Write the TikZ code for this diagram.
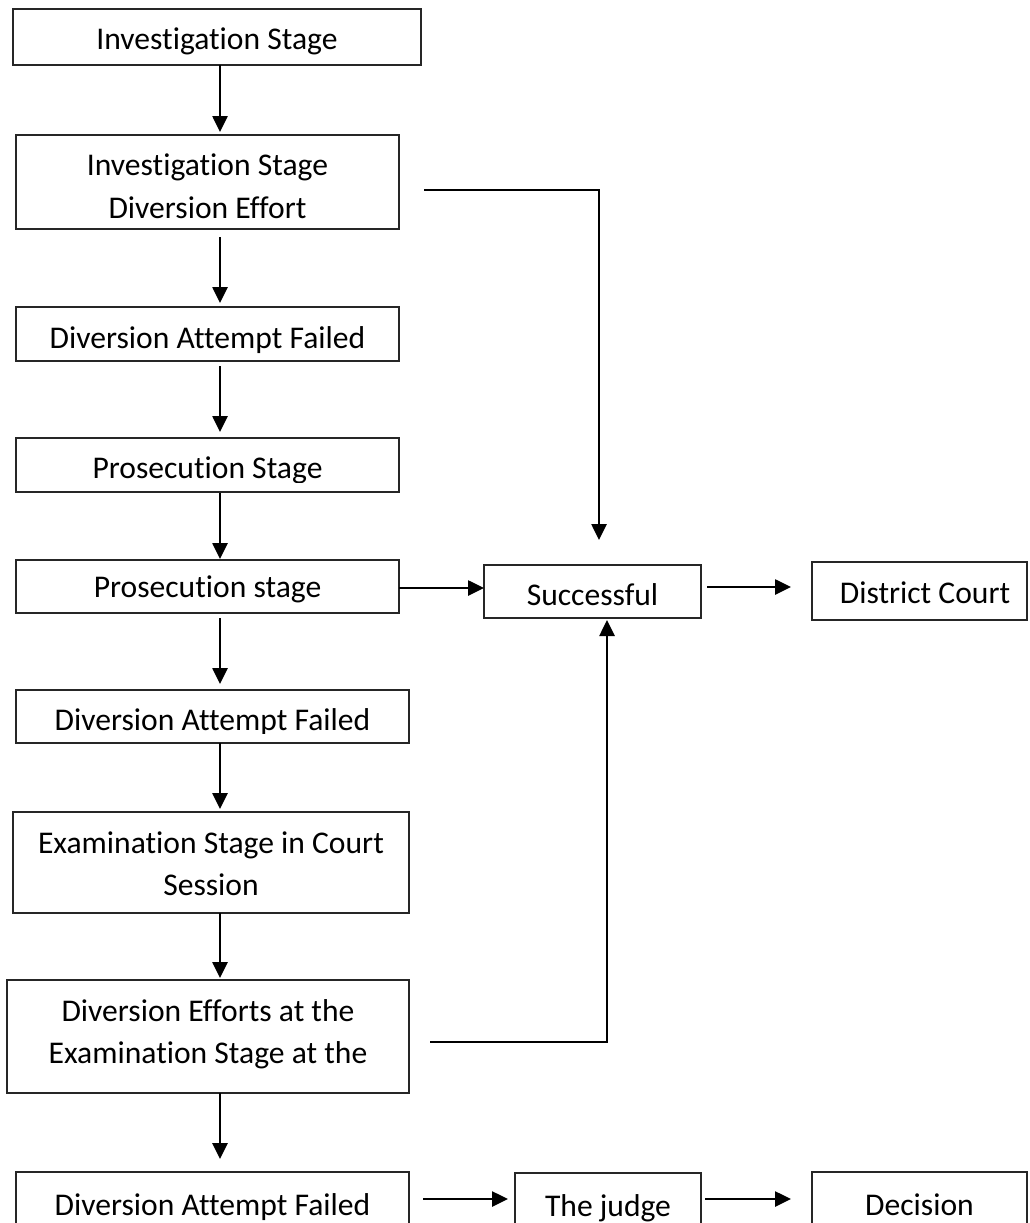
\documentclass[tikz,border=0pt]{standalone}
\usepackage{fontspec}
\setmainfont{Carlito}[RawFeature={-liga;-clig;-dlig}]
\usetikzlibrary{arrows.meta,calc}
\begin{document}
\begin{tikzpicture}[x=1pt,y=-1pt,
  box/.style={draw=black!85, line width=1.4pt, rectangle, inner sep=0pt, outer sep=0pt, anchor=north west},
  txt/.style={inner sep=0pt, anchor=base, font=\fontsize{31.6}{42}\selectfont},
  arr/.style={line width=2.6pt, -{Triangle[width=15pt,length=16pt]}},
]
\useasboundingbox (0,0) rectangle (1029,1223);
\clip (0,0) rectangle (1029,1223);
\coordinate (sp) at (220,0);

% boxes
\node[box, minimum width=408pt, minimum height=56pt]  (b1) at (13,9) {};
\node[box, minimum width=383pt, minimum height=94pt]  (b2) at (16,135) {};
\node[box, minimum width=383pt, minimum height=54pt]  (b3) at (16,307) {};
\node[box, minimum width=383pt, minimum height=54pt]  (b4) at (16,438) {};
\node[box, minimum width=383pt, minimum height=53pt]  (b5) at (16,560) {};
\node[box, minimum width=393pt, minimum height=53pt]  (b6) at (16,690) {};
\node[box, minimum width=396pt, minimum height=101pt] (b7) at (13,812) {};
\node[box, minimum width=402pt, minimum height=113pt] (b8) at (7,980) {};
\node[box, minimum width=393pt, minimum height=90pt]  (b9) at (16,1172) {};
\node[box, minimum width=217pt, minimum height=53pt]  (succ) at (484,565) {};
\node[box, minimum width=215pt, minimum height=58pt]  (dc) at (812,562) {};
\node[box, minimum width=186pt, minimum height=90pt]  (judge) at (515,1173) {};
\node[box, minimum width=215pt, minimum height=90pt]  (dec) at (812,1172) {};

% texts
\node[txt] (t1) at (217,50) {Investigation Stage};
\node[txt] (t2a) at (207.5,175) {Investigation Stage};
\node[txt] (t2b) at (207.5,218) {Diversion Effort};
\node[txt] (t3) at (207.5,348) {Diversion Attempt Failed};
\begin{scope}
  \clip (0,440) rectangle (1029,482);
  \node[txt] (t4) at (207.5,478) {Prosecution Stage};
\end{scope}
\begin{scope}
  \clip (0,562) rectangle (1029,602);
  \node[txt] (t5) at (207.5,597) {Prosecution stage};
\end{scope}
\begin{scope}
  \clip (0,692) rectangle (1029,733);
  \node[txt] (t6) at (212.5,730) {Diversion Attempt Failed};
\end{scope}
\node[txt] (t7a) at (211,853) {Examination Stage in Court};
\node[txt] (t7b) at (211,895) {Session};
\node[txt] (t8a) at (208,1021) {Diversion Efforts at the};
\node[txt] (t8b) at (208,1063) {Examination Stage at the};
\node[txt] (t9) at (212.5,1215) {Diversion Attempt Failed};
\node[txt] (tj) at (608,1216) {The judge};
\node[txt] (td) at (919.5,1215) {Decision};
\node[txt] (ts) at (592.5,605) {Successful};
\node[txt] (tdc) at (925,603) {District Court};

% vertical arrows
\draw[arr] (b1.south -| sp) -- ($(b2.north -| sp)+(0,-3)$);
\draw[arr] ($(b2.south -| sp)+(0,8)$) -- ($(b3.north -| sp)+(0,-4)$);
\draw[arr] ($(b3.south -| sp)+(0,5)$) -- ($(b4.north -| sp)+(0,-6)$);
\draw[arr] ($(b4.south -| sp)+(0,1)$) -- ($(b5.north -| sp)+(0,-1)$);
\draw[arr] ($(b5.south -| sp)+(0,5)$) -- ($(b6.north -| sp)+(0,-6)$);
\draw[arr] (b6.south -| sp) -- ($(b7.north -| sp)+(0,-3)$);
\draw[arr] (b7.south -| sp) -- ($(b8.north -| sp)+(0,-2)$);
\draw[arr] (b8.south -| sp) -- ($(b9.north -| sp)+(0,-13)$);

% horizontal arrows
\draw[arr] ($(b5.east)+(0,1.5)$) -- ($(succ.west)+(0,-3.5)$);
\draw[arr] ($(succ.east)+(6,-4.5)$) -- ($(dc.west)+(-21,-4)$);
\draw[arr] ($(b9.north east)+(14,27)$) -- ($(judge.north west)+(-7,26)$);
\draw[arr] ($(judge.north east)+(4,26)$) -- ($(dec.north west)+(-21,27)$);

% elbow connectors
\draw[arr] ($(b2.east)+(25,8)$) -| ($(succ.north)+(6.5,-25)$);
\draw[arr] ($(b8.east)+(21,5.5)$) -| ($(succ.south)+(14.5,2)$);
\end{tikzpicture}
\end{document}
